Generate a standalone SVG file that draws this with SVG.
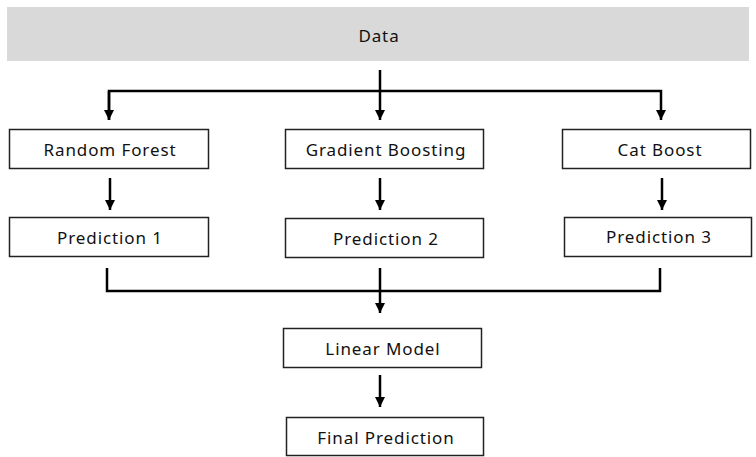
<svg xmlns="http://www.w3.org/2000/svg" width="756" height="457" viewBox="0 0 756 457">
<style>
.box{fill:#fff;stroke:#222;stroke-width:1.5}
.t{font-family:"Noto Sans","Open Sans",sans-serif;font-size:17px;letter-spacing:0.9px;fill:#111;text-anchor:middle;dominant-baseline:central}
.c{fill:none;stroke:#000;stroke-width:2.5}
</style>
<defs>
<marker id="ah" viewBox="0 0 10 10" refX="10" refY="5" markerWidth="4" markerHeight="4" markerUnits="strokeWidth" orient="auto">
<path d="M0,0 L10,5 L0,10 z" fill="#000"/>
</marker>
</defs>
<rect width="756" height="457" fill="#fff"/>
<g id="data"><rect x="7" y="7" width="742" height="54" fill="#d9d9d9"/><text class="t" x="379" y="35">Data</text></g>
<g id="rf"><rect class="box" x="9.5" y="129.5" width="199" height="39"/><text class="t" x="110" y="149">Random Forest</text></g>
<g id="gb"><rect class="box" x="285.5" y="129.5" width="198" height="39"/><text class="t" x="386" y="149">Gradient Boosting</text></g>
<g id="cb"><rect class="box" x="562.5" y="129.5" width="188" height="39"/><text class="t" x="660" y="149">Cat Boost</text></g>
<g id="p1"><rect class="box" x="9.5" y="217.5" width="199" height="39"/><text class="t" x="110" y="237">Prediction 1</text></g>
<g id="p2"><rect class="box" x="285.5" y="218.5" width="198" height="39"/><text class="t" x="386" y="238">Prediction 2</text></g>
<g id="p3"><rect class="box" x="564.5" y="217.5" width="187" height="39"/><text class="t" x="659" y="236">Prediction 3</text></g>
<g id="lm"><rect class="box" x="283.5" y="328.5" width="198" height="39"/><text class="t" x="383" y="348">Linear Model</text></g>
<g id="fp"><rect class="box" x="286.5" y="417.5" width="197" height="38"/><text class="t" x="386" y="437">Final Prediction</text></g>
<g id="connectors">
<path class="c" d="M380,70 V120" marker-end="url(#ah)"/>
<path class="c" d="M109,120 V91 H661 V120" marker-end="url(#ah)"/>
<path class="c" d="M109,91 V120" marker-end="url(#ah)"/>
<path class="c" d="M110,178 V210" marker-end="url(#ah)"/>
<path class="c" d="M380,178 V210" marker-end="url(#ah)"/>
<path class="c" d="M662,178 V210" marker-end="url(#ah)"/>
<path class="c" d="M107,268 V291 H660 V268"/>
<path class="c" d="M380,268 V313" marker-end="url(#ah)"/>
<path class="c" d="M380,375 V407" marker-end="url(#ah)"/>
</g>
</svg>
